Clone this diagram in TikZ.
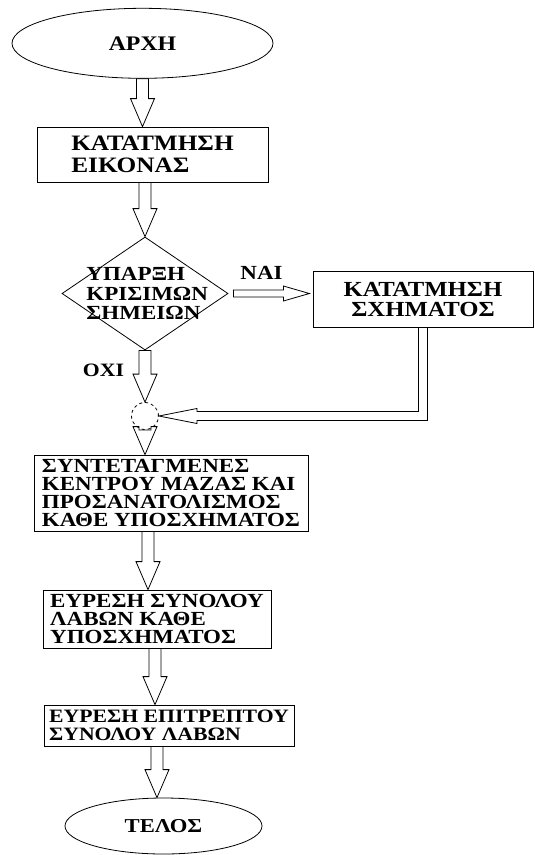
\documentclass[tikz,border=0pt]{standalone}
\usepackage{fontspec}
\newfontfamily\grk[FakeStretch=1.15]{Liberation Serif Bold}
\usetikzlibrary{shapes.geometric,calc}
\tikzset{
  lbl/.style={font=\grk\fontsize{20}{18.3}\selectfont},
  proc/.style={draw, rectangle, lbl, align=left, inner sep=0pt},
  term/.style={draw, ellipse, lbl, inner sep=0pt},
  % hollow block arrow: shaft half width, head half width, head length
  blk/.style n args={3}{to path={
    ($(\tikztostart)!#1!90:(\tikztotarget)$)
    -- ($($(\tikztotarget)!#3!(\tikztostart)$)!#1!90:(\tikztotarget)$)
    -- ($($(\tikztotarget)!#3!(\tikztostart)$)!#2!90:(\tikztotarget)$)
    -- (\tikztotarget)
    -- ($($(\tikztotarget)!#3!(\tikztostart)$)!#2!-90:(\tikztotarget)$)
    -- ($($(\tikztotarget)!#3!(\tikztostart)$)!#1!-90:(\tikztotarget)$)
    -- ($(\tikztostart)!#1!-90:(\tikztotarget)$)
    -- cycle}},
  bigarrow/.style={blk={6pt}{12pt}{28pt}},
  smallarrow/.style={blk={3.5pt}{7.5pt}{26pt}},
}
\begin{document}
\begin{tikzpicture}[x=1pt,y=-1pt,line width=0.8pt]
  \useasboundingbox (0,0) rectangle (535,855);
  % Start and stop
  \node[term, minimum width=261pt, minimum height=70pt, font=\grk\fontsize{20.7}{20}\selectfont] (start) at (142.5,43.3) {ΑΡΧΗ};
  \node[term, minimum width=197pt, minimum height=56pt, font=\grk\fontsize{19.7}{20}\selectfont] (stop) at (163.5,826) {ΤΕΛΟΣ};
  % Steps
  \node[proc, minimum width=231pt, minimum height=55pt, font=\grk\fontsize{22}{22}\selectfont] (seg) at (152.5,154.5) {ΚΑΤΑΤΜΗΣΗ\\ΕΙΚΟΝΑΣ};
  \node[proc, align=center, minimum width=220pt, minimum height=56pt, font=\grk\fontsize{21.5}{20}\selectfont] (shapeseg) at (423,299.5) {ΚΑΤΑΤΜΗΣΗ\\ΣΧΗΜΑΤΟΣ};
  \node[proc, minimum width=274pt, minimum height=76pt] (coords) at (171,493) {ΣΥΝΤΕΤΑΓΜΕΝΕΣ\\ΚΕΝΤΡΟΥ ΜΑΖΑΣ ΚΑΙ\\ΠΡΟΣΑΝΑΤΟΛΙΣΜΟΣ\\ΚΑΘΕ ΥΠΟΣΧΗΜΑΤΟΣ};
  \node[proc, minimum width=228pt, minimum height=58pt] (grasps) at (157,619) {ΕΥΡΕΣΗ ΣΥΝΟΛΟΥ\\ΛΑΒΩΝ ΚΑΘΕ\\ΥΠΟΣΧΗΜΑΤΟΣ};
  \node[proc, minimum width=250pt, minimum height=41pt, font=\grk\fontsize{18.9}{18.3}\selectfont] (valid) at (169,725.5) {ΕΥΡΕΣΗ ΕΠΙΤΡΕΠΤΟΥ\\ΣΥΝΟΛΟΥ ΛΑΒΩΝ};
  % Decision
  \node[draw, diamond, minimum width=166pt, minimum height=113pt, inner sep=0pt] (dec) at (145,293.5) {};
  \node[align=left, anchor=west, inner sep=0pt, font=\grk\fontsize{20}{19.5}\selectfont] (dectext) at (86,293.5) {ΥΠΑΡΞΗ\\ΚΡΙΣΙΜΩΝ\\ΣΗΜΕΙΩΝ};
  \node[lbl] (yes) at (261.5,273) {ΝΑΙ};
  \node[lbl, font=\grk\fontsize{18.9}{18}\selectfont] (no) at (103.5,370) {ΟΧΙ};
  % Merge point
  \node[draw, circle, dashed, minimum size=27pt, inner sep=0pt] (merge) at (145,416) {};
  % Arrows
  \draw[bigarrow] (start.south) to (start.south |- seg.north);
  \draw[bigarrow] (dec.north |- seg.south) to (dec.north);
  \draw[smallarrow] ([xshift=5pt]dec.east) to ([xshift=81pt]dec.east);
  \draw[bigarrow] (dec.south) to (merge.north);
  \coordinate (hb) at ([xshift=38pt]merge.east);
  \draw ([xshift=-4.5pt]shapeseg.south) |- ([yshift=4.5pt]hb) -- ([yshift=7.5pt]hb) -- (merge.east)
    -- ([yshift=-7.5pt]hb) -- ([yshift=-4.5pt]hb) -| ([xshift=4.5pt]shapeseg.south);
  \draw[bigarrow] (merge.south) to (merge.south |- coords.north);
  \draw[bigarrow] ([xshift=-23pt]coords.south) to ([xshift=-9pt]grasps.north);
  \draw[bigarrow] ([xshift=-2pt]grasps.south) to ([xshift=-14pt]valid.north);
  \draw[bigarrow] ([xshift=-12pt]valid.south) to ([xshift=-6.5pt]stop.north);
\end{tikzpicture}
\end{document}
